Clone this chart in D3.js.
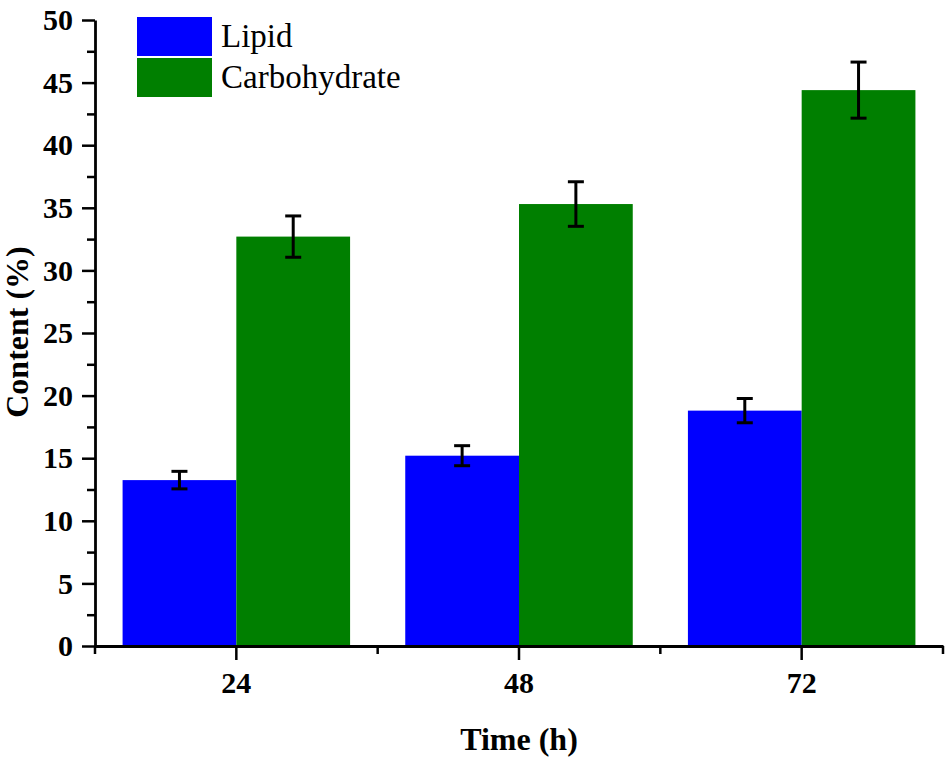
<!DOCTYPE html>
<html>
<head>
<meta charset="utf-8">
<script src="https://cdn.jsdelivr.net/npm/d3@7"></script>
<style>
  body { margin: 0; background: #fff; }
  svg, svg text { font-family: "Liberation Serif", "Times New Roman", serif; }
</style>
</head>
<body>
<script>
// values
const times = ["24", "48", "72"];
const series = ["Lipid", "Carbohydrate"];
const lipid = [13.25, 15.2, 18.8];
const lipidErr = [0.7, 0.8, 0.97];
const carbo = [32.7, 35.3, 44.4];
const carboErr = [1.65, 1.78, 2.24];
const yTicks = [0, 5, 10, 15, 20, 25, 30, 35, 40, 45, 50];
const colors = ["#0000ff", "#007f00"];

const width = 950, height = 764;
const margin = {top: 20, right: 7, bottom: 118, left: 95};

const svg = d3.select("body").append("svg")
    .attr("width", width)
    .attr("height", height);

const x = d3.scaleBand()
    .domain(times)
    .range([margin.left, width - margin.right])
    .paddingInner(0).paddingOuter(0);

const xSub = d3.scaleBand()
    .domain(series)
    .range([0, x.bandwidth()])
    .paddingInner(0).paddingOuter(0.2425);

const y = d3.scaleLinear()
    .domain([0, 50])
    .range([height - margin.bottom, margin.top]);

const rows = [];
times.forEach((t, i) => {
    rows.push({t: t, s: series[0], v: lipid[i], e: lipidErr[i]});
    rows.push({t: t, s: series[1], v: carbo[i], e: carboErr[i]});
});

// bars
svg.append("g").selectAll("rect")
    .data(rows)
    .enter().append("rect")
    .attr("x", d => x(d.t) + xSub(d.s))
    .attr("y", d => y(d.v))
    .attr("width", xSub.bandwidth())
    .attr("height", d => y(0) - y(d.v))
    .style("fill", d => colors[series.indexOf(d.s)]);

// error bars
const eb = svg.append("g").attr("stroke", "#000").attr("stroke-width", 3);
rows.forEach(d => {
    const cx = x(d.t) + xSub(d.s) + xSub.bandwidth() / 2;
    eb.append("line").attr("x1", cx).attr("x2", cx)
        .attr("y1", y(d.v + d.e)).attr("y2", y(d.v - d.e));
    [d.v + d.e, d.v - d.e].forEach(v => {
        eb.append("line").attr("x1", cx - 8).attr("x2", cx + 8)
            .attr("y1", y(v)).attr("y2", y(v));
    });
});

// y axis
svg.append("g")
    .attr("transform", `translate(${margin.left},0)`)
    .call(d3.axisLeft(y).tickValues(yTicks).tickSize(13).tickPadding(9).tickSizeOuter(0));
svg.append("g")
    .attr("transform", `translate(${margin.left},0)`)
    .call(d3.axisLeft(y).tickValues(yTicks.slice(0, -1).map(v => v + 2.5)).tickSize(8).tickFormat("").tickSizeOuter(0))
    .call(g => g.select(".domain").remove());

// x axis
svg.append("g")
    .attr("transform", `translate(0,${y(0)})`)
    .call(d3.axisBottom(x).tickSize(14).tickPadding(12).tickSizeOuter(0));
const bounds = times.map(t => x(t)).concat([x(times[times.length - 1]) + x.bandwidth()]);
svg.append("g").selectAll("line")
    .data(bounds)
    .enter().append("line")
    .attr("x1", d => d).attr("x2", d => d)
    .attr("y1", y(0)).attr("y2", y(0) + 8)
    .attr("stroke", "#000").attr("stroke-width", 2.5);

svg.selectAll("g").attr("font-family", null).attr("font-size", null);
svg.selectAll(".domain").attr("stroke-width", 2.8);
svg.selectAll(".tick line").attr("stroke-width", 2.5);
svg.selectAll(".tick text")
    .style("font-size", "30px")
    .style("font-weight", "bold")
    .attr("fill", "#000");

// axis titles
svg.append("text")
    .attr("x", 519).attr("y", 750)
    .attr("text-anchor", "middle")
    .style("font-size", "32px").style("font-weight", "bold")
    .text("Time (h)");

svg.append("text")
    .attr("transform", "translate(28,332) rotate(-90)")
    .attr("text-anchor", "middle")
    .style("font-size", "32px").style("font-weight", "bold")
    .text("Content (%)");

// legend
const legend = svg.append("g").attr("transform", "translate(137,17)");
series.forEach((s, i) => {
    legend.append("rect")
        .attr("x", 0).attr("y", i * 41)
        .attr("width", 75).attr("height", 39)
        .style("fill", colors[i]);
    legend.append("text")
        .attr("x", 84).attr("y", i * 41 + 30)
        .style("font-size", "33px")
        .text(s);
});
</script>
</body>
</html>
